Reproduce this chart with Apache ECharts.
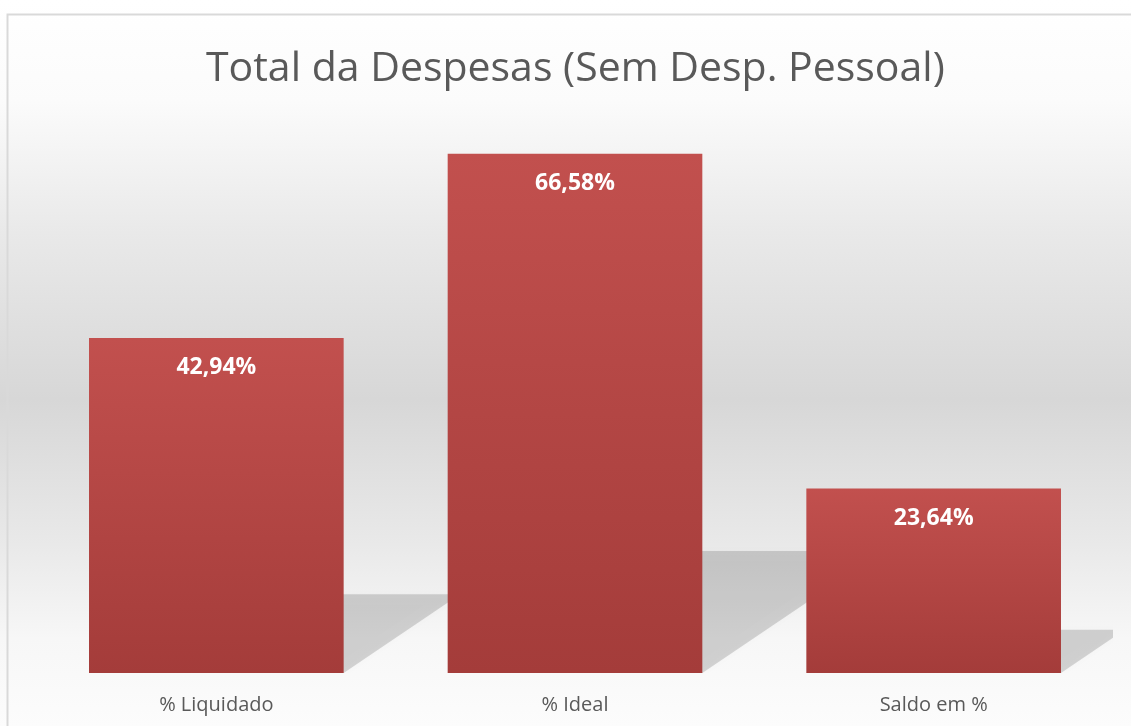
<!DOCTYPE html>
<html>
<head>
<meta charset="utf-8">
<script src="https://cdn.jsdelivr.net/npm/echarts@6/dist/echarts.min.js"></script>
<style>
  html, body { margin: 0; padding: 0; background: #fff; }
  #chart { width: 1131px; height: 726px; }
</style>
</head>
<body>
<div id="chart"></div>
<script>
var categories = ['% Liquidado', '% Ideal', 'Saldo em %'];
var values = [42.94, 66.58, 23.64];

var myChart = echarts.init(document.getElementById('chart'));

function fmt(v) {
  return v.toFixed(2).replace('.', ',') + '%';
}

// floor shadow behind each bar (excel style)
function renderShadow(params, api) {
  var idx = api.value(0);
  var base = api.coord([idx, 0]);
  var top = api.coord([idx, api.value(1)]);
  var w = api.size([1, 0])[0] * 0.71;
  var h = (base[1] - top[1]) * 0.235;
  var skew = h * 1.48;
  var x0 = base[0] - w / 2, x1 = base[0] + w / 2, y0 = base[1];
  return {
    type: 'polygon',
    shape: { points: [[x0, y0], [x1, y0], [x1 + skew, y0 - h], [x0 + skew, y0 - h]] },
    style: {
      fill: 'rgba(0,0,0,0.15)',
      shadowBlur: 8,
      shadowColor: 'rgba(0,0,0,0.12)'
    }
  };
}

var option = {
  backgroundColor: {
    type: 'linear', x: 0, y: 0, x2: 0, y2: 1,
    colorStops: [
      { offset: 0, color: '#ffffff' },
      { offset: 0.14, color: '#fbfbfb' },
      { offset: 0.32, color: '#e9e9e9' },
      { offset: 0.55, color: '#d7d7d7' },
      { offset: 0.75, color: '#e9e9e9' },
      { offset: 0.88, color: '#f7f7f7' },
      { offset: 1, color: '#fcfcfc' }
    ]
  },
  graphic: [{
    type: 'rect',
    shape: { x: 7.5, y: 14.5, width: 1130, height: 720 },
    style: { fill: 'none', stroke: '#d9d9d9', lineWidth: 2 },
    silent: true
  }],
  title: {
    text: 'Total da Despesas (Sem Desp. Pessoal)',
    left: 201,
    top: 44,
    textStyle: {
      fontFamily: 'Open Sans',
      fontSize: 41,
      fontWeight: 'normal',
      color: '#595959'
    }
  },
  grid: {
    left: 37,
    right: 18,
    top: 49,
    bottom: 53,
    containLabel: false
  },
  xAxis: {
    type: 'category',
    data: categories,
    axisLine: { show: false },
    axisTick: { show: false },
    axisLabel: {
      margin: 22,
      fontFamily: 'Open Sans',
      fontSize: 20,
      color: '#595959'
    }
  },
  yAxis: {
    type: 'value',
    min: 0,
    max: 80,
    show: false,
    splitLine: { show: false }
  },
  series: [
    {
      type: 'custom',
      renderItem: renderShadow,
      clip: true,
      z: 1,
      silent: true,
      data: values.map(function (v, i) { return [i, v]; })
    },
    {
      type: 'bar',
      z: 2,
      barWidth: '71%',
      data: values,
      itemStyle: {
        color: {
          type: 'linear', x: 0, y: 0, x2: 0, y2: 1,
          colorStops: [
            { offset: 0, color: '#c2504e' },
            { offset: 1, color: '#a43c3a' }
          ]
        }
      },
      label: {
        show: true,
        position: 'insideTop',
        distance: 18,
        formatter: function (p) { return fmt(p.value); },
        color: '#ffffff',
        fontFamily: 'Open Sans',
        fontWeight: 'bold',
        fontSize: 23
      }
    }
  ]
};

myChart.setOption(option);
</script>
</body>
</html>
